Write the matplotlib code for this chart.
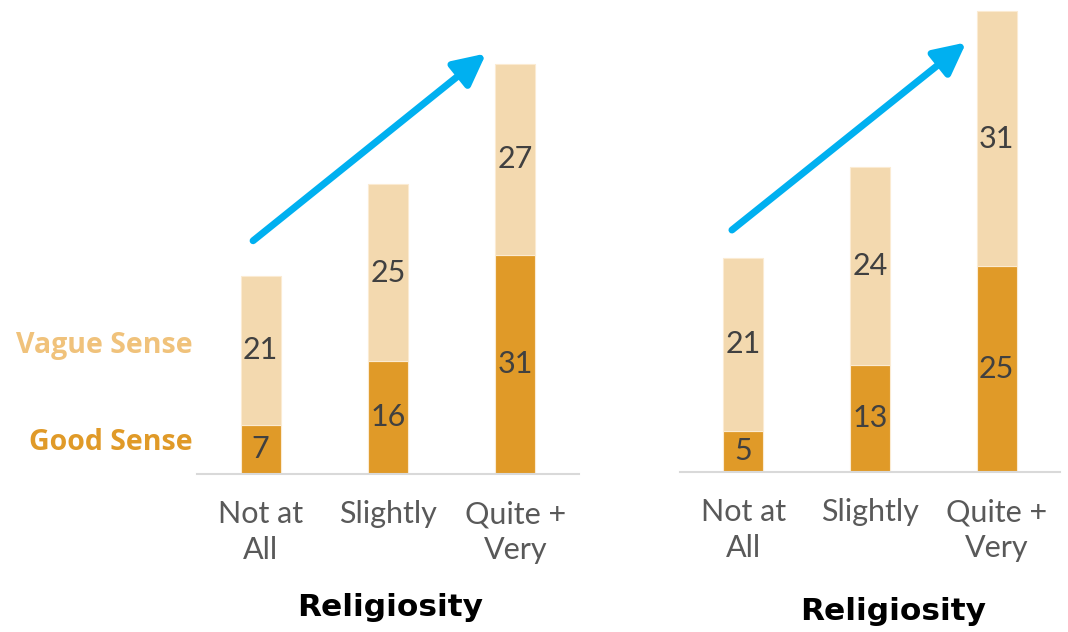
import matplotlib.pyplot as plt

categories = ['Not at\nAll', 'Slightly', 'Quite +\nVery']
left_good = [7, 16, 31]
left_vague = [21, 25, 27]
right_good = [5, 13, 25]
right_vague = [21, 24, 31]

good_color = '#E09A28'
vague_color = '#F3D9AF'
arrow_color = '#00B0F0'
num_color = '#404040'
tick_color = '#595959'

plt.rcParams['font.family'] = ['Lato', 'DejaVu Sans']

fig = plt.figure(figsize=(10.68, 6.32), dpi=100)
ax1 = fig.add_axes([0.1845, 0.25, 0.3577, 0.737])
ax2 = fig.add_axes([0.6367, 0.2532, 0.3558, 0.7468])


def draw_panel(ax, good, vague, ytop, arrow_start, arrow_end):
    x = range(len(categories))
    ax.bar(x, good, width=0.314, color=good_color, edgecolor='#FBEBD2', linewidth=0.8)
    ax.bar(x, vague, width=0.314, bottom=good, color=vague_color,
           edgecolor='#FBEBD2', linewidth=0.8)
    for i, (g, v) in enumerate(zip(good, vague)):
        ax.text(i, g / 2, str(g), ha='center', va='center', fontsize=22,
                color=num_color)
        ax.text(i, g + v / 2, str(v), ha='center', va='center', fontsize=22,
                color=num_color)
    ax.set_xlim(-0.5, 2.5)
    ax.set_ylim(0, ytop)
    ax.set_xticks(list(x))
    ax.set_xticklabels(categories, fontsize=22, color=tick_color,
                       linespacing=1.35)
    ax.tick_params(axis='x', length=0, pad=19)
    ax.set_yticks([])
    for s in ['top', 'right', 'left']:
        ax.spines[s].set_visible(False)
    ax.spines['bottom'].set_color('#D9D9D9')
    ax.spines['bottom'].set_linewidth(1.5)
    ax.annotate('', xy=arrow_end, xytext=arrow_start,
                arrowprops=dict(arrowstyle='-|>,head_length=1.2,head_width=0.6',
                                color=arrow_color, lw=5, shrinkA=0, shrinkB=0,
                                mutation_scale=16))


draw_panel(ax1, left_good, left_vague, 65.9, (-0.06, 33), (1.77, 59.5))
draw_panel(ax2, right_good, right_vague, 57.35, (-0.09, 29.4), (1.76, 52.2))

title_font = ['DejaVu Sans']
legend_font = ['Open Sans', 'DejaVu Sans']
fig.text(390 / 1068, 1 - 607 / 632, 'Religiosity', ha='center', va='center',
         fontsize=22.5, fontweight='bold', color='black', family=title_font)
fig.text(893 / 1068, 1 - 612 / 632, 'Religiosity', ha='center', va='center',
         fontsize=22.5, fontweight='bold', color='black', family=title_font)
fig.text(193 / 1068, 1 - 345 / 632, 'Vague Sense', ha='right', va='center',
         fontsize=20.5, fontweight='bold', color='#F0C27B', family=legend_font)
fig.text(193 / 1068, 1 - 442 / 632, 'Good Sense', ha='right', va='center',
         fontsize=20.5, fontweight='bold', color=good_color, family=legend_font)

fig.savefig('out.png', dpi=100)
